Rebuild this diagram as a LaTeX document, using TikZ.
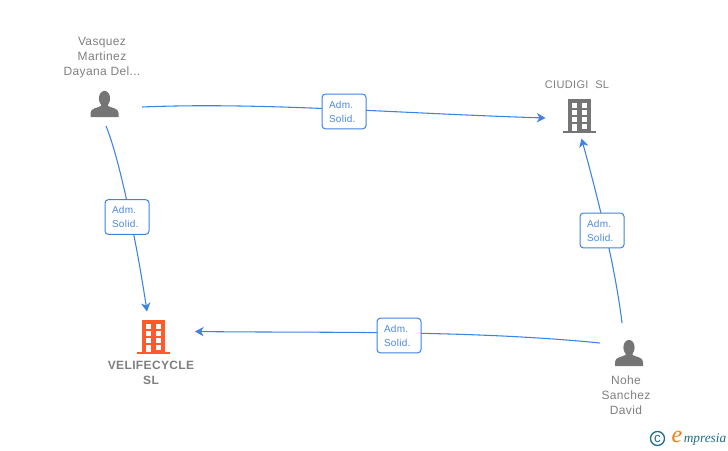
\documentclass[tikz,border=0pt]{standalone}
\usepackage{fontspec}
\usetikzlibrary{arrows.meta}
\setmainfont{Liberation Sans}
\newfontfamily\namefont[LetterSpace=3]{Liberation Sans}
\newfontfamily\logofont{Liberation Serif}
\definecolor{iconGray}{HTML}{757575}
\definecolor{nameGray}{HTML}{7F7F7F}
\definecolor{linkBlue}{HTML}{3B82E4}
\definecolor{labelBlue}{HTML}{4A88E2}
\definecolor{velOrange}{HTML}{FF5A2B}
\definecolor{logoTeal}{HTML}{1F6C86}
\definecolor{logoOrange}{HTML}{EE7D11}
\tikzset{
  nametext/.style={text=nameGray,font=\namefont\fontsize{9}{11.25}\selectfont,align=center},
  admbox/.style={draw=linkBlue,fill=white,rounded corners=2.5pt,line width=.75pt,
    minimum width=33pt,minimum height=26pt,inner sep=0pt,text width=22.5pt,align=left,
    text=labelBlue,font=\namefont\fontsize{7.5}{10.5}\selectfont},
  linkarrow/.style={draw=linkBlue,line width=.8pt,-{Stealth[length=6.5pt,width=7pt,inset=2pt]}},
  iconspot/.style={inner sep=0pt,minimum size=20pt}
}
% #1 x, #2 bottom y
\newcommand{\personicon}[2]{
  \fill[iconGray,shift={(#1,#2)}] (-14,0) -- (-14,-4) .. controls (-14,-9) and (-7,-9) .. (-3.5,-11)
    -- (-3.5,-13) -- (3.5,-13) -- (3.5,-11) .. controls (7,-9) and (14,-9) .. (14,-4) -- (14,0) -- cycle;
  \fill[iconGray,shift={(#1,#2)}] (0,-18.5) ellipse [x radius=5.6,y radius=7.6];
}
% #1 left x, #2 top y, #3 colour
\newcommand{\buildingicon}[3]{
  \begin{scope}[shift={(#1,#2)}]
    \fill[#3] (0,0) rectangle (23,32);
    \fill[#3] (-5,32) rectangle (28,34);
    \foreach \y in {4,11,18}{
      \fill[white] (4,\y) rectangle (8.5,\y+4.5);
      \fill[white] (14,\y) rectangle (18.5,\y+4.5);
    }
    \fill[white] (4,25) rectangle (8.5,32);
    \fill[white] (14,25) rectangle (18.5,29.5);
  \end{scope}
}
\begin{document}
\begin{tikzpicture}[x=.75pt,y=-.75pt]
  \useasboundingbox (0,0) rectangle (728,450);
  % icons
  \personicon{104.5}{117}
  \personicon{629}{366}
  \buildingicon{568}{99}{iconGray}
  \buildingicon{142}{320}{velOrange}
  \node[iconspot] (vasquez) at (104.5,104) {};
  \node[iconspot] (nohe) at (629,353) {};
  \node[iconspot] (ciudigi) at (579.5,116) {};
  \node[iconspot] (velifecycle) at (153.5,337) {};
  % names
  \node[nametext] (vasquezname) at (102,57.5) {Vasquez\\Martinez\\Dayana Del...};
  \node[nametext] (ciudiginame) at (577,85) {\fontsize{8.25}{10}\selectfont CIUDIGI\ \ SL};
  \node[nametext,font=\namefont\bfseries\fontsize{9}{11.25}\selectfont] (velifecyclename) at (151,372.5) {VELIFECYCLE\\SL};
  \node[nametext] (nohename) at (626,395) {Nohe\\Sanchez\\David};
  % free ends
  \coordinate (va) at (142,107);
  \coordinate (vb) at (106,126);
  \coordinate (na) at (622,323);
  \coordinate (nb) at (600,343);
  \coordinate (ca) at (545.5,118);
  \coordinate (cb) at (581.5,138.5);
  \coordinate (la) at (147,311.5);
  \coordinate (lb) at (195,331.5);
  % connectors
  \draw[linkarrow] (va) .. controls (260,102) and (390,113) .. (ca);
  \draw[linkarrow] (vb) .. controls (120,160) and (137,245) .. (la);
  \draw[linkarrow] (na) .. controls (615,265) and (597,195) .. (cb);
  \draw[linkarrow] (nb) .. controls (470,330) and (330,333) .. (lb);
  % labels
  \node[admbox] (adma) at (344,111.5) {Adm.\\Solid.};
  \node[admbox] (admb) at (127,217) {Adm.\\Solid.};
  \node[admbox] (admc) at (602,230.5) {Adm.\\Solid.};
  \node[admbox] (admd) at (399,335.5) {Adm.\\Solid.};
  % logo
  \node[draw=logoTeal,circle,line width=1pt,minimum size=10.5pt,inner sep=0pt,text=logoTeal,
    font=\fontsize{10}{10}\selectfont] (copyr) at (657.5,438.5) {c};
  \node[text=logoOrange,font=\logofont\itshape\fontsize{18}{18}\selectfont,inner sep=0pt] (logoe) at (677,437) {e};
  \node[text=logoTeal,font=\logofont\itshape\fontsize{10}{10}\selectfont,anchor=west,inner sep=0pt] (logotext) at (683.5,439) {mpresia};
\end{tikzpicture}
\end{document}
